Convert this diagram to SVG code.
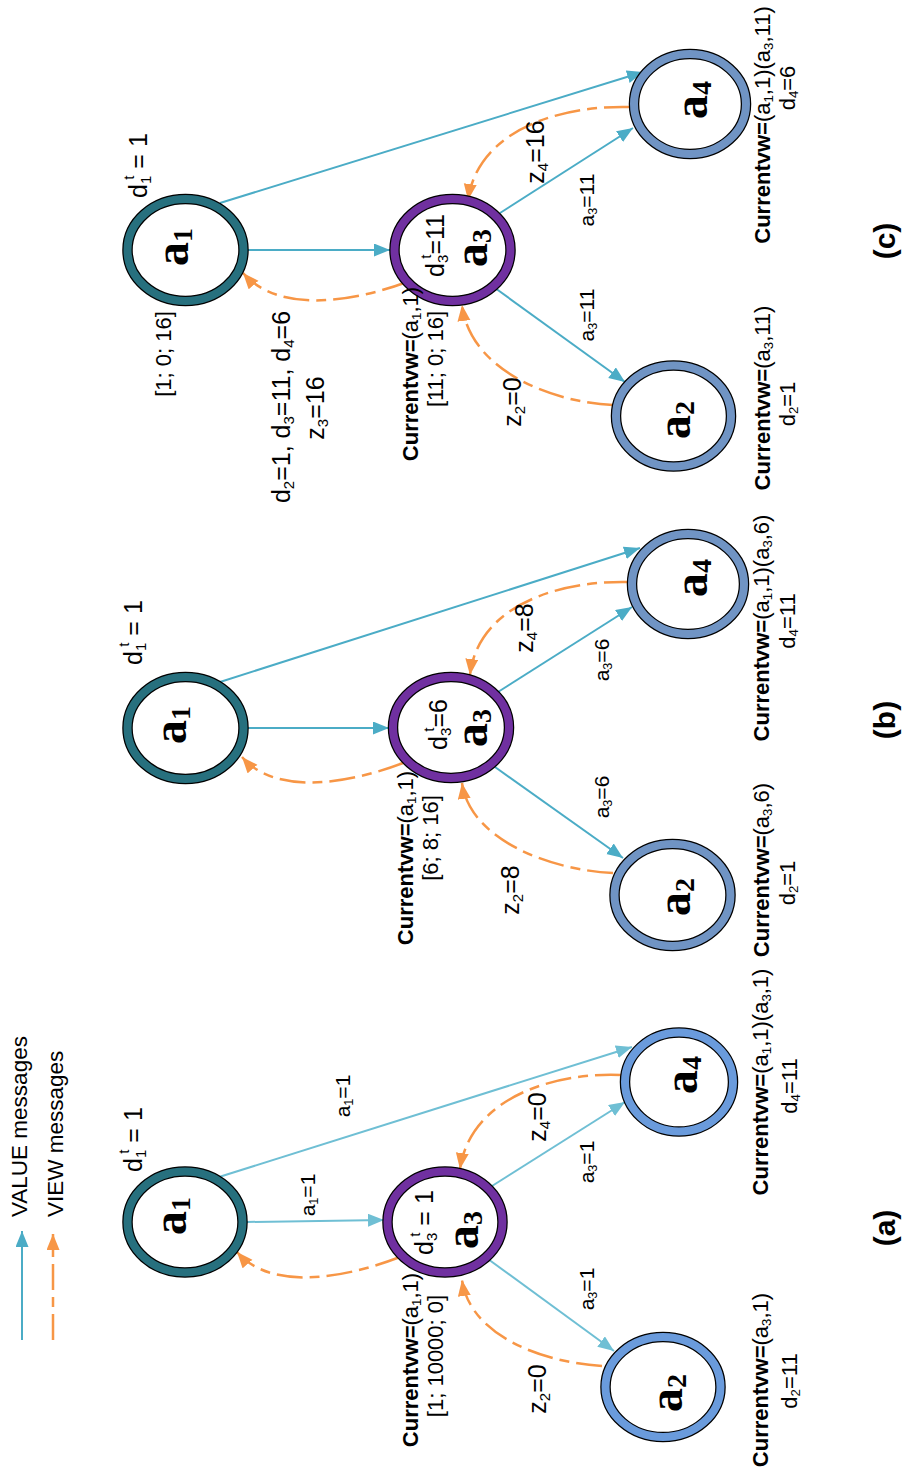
<svg xmlns="http://www.w3.org/2000/svg" width="906" height="1472" viewBox="0 0 906 1472">
  <defs>
    <style>
      .t { font-family: "Liberation Sans", Arial, sans-serif; fill: #000; }
      .lg { font-size: 22.5px; }
      .cv { font-size: 22px; }
      .el { font-size: 21px; }
      .zl { font-size: 25px; }
      .dl { font-size: 25px; }
      .sb { font-size: 0.6em; }
      .b { font-weight: bold; }
      .cap { font-size: 30px; font-weight: bold; }
      .name { font-family: "Liberation Serif", "Times New Roman", serif; font-weight: bold; font-size: 48px; fill: #000; }
      .name .sb { font-size: 28px; }
      .ring-k { fill: #fff; stroke: #000; stroke-width: 10.5; }
      .ring { fill: none; stroke-width: 8; }
      .teal { stroke: #27707e; }
      .purple { stroke: #7030a0; }
      .sky { stroke: #6a9bdc; }
      .steel { stroke: #7094c4; }
      .val { fill: none; stroke: #4bacc6; stroke-width: 2; }
      .val-lt { fill: none; stroke: #6fbfd4; stroke-width: 2; }
      .view { fill: none; stroke: #f79646; stroke-width: 2.5; stroke-dasharray: 26 7 10 7; }
    </style>
    <marker id="ah-val" markerUnits="userSpaceOnUse" markerWidth="18" markerHeight="14" refX="16" refY="6.5" orient="auto">
      <path d="M0,0 L16,6.5 L0,13 z" fill="#4bacc6"/>
    </marker>
    <marker id="ah-val-lt" markerUnits="userSpaceOnUse" markerWidth="18" markerHeight="14" refX="16" refY="6.5" orient="auto">
      <path d="M0,0 L16,6.5 L0,13 z" fill="#6fbfd4"/>
    </marker>
    <marker id="ah-view" markerUnits="userSpaceOnUse" markerWidth="18" markerHeight="14" refX="16" refY="6.5" orient="auto">
      <path d="M0,0 L16,6.5 L0,13 z" fill="#f79646"/>
    </marker>
  </defs>

  <rect width="906" height="1472" fill="#fff"/>

  <!-- legend -->
  <g id="legend">
    <line class="val" x1="22" y1="1340" x2="22" y2="1231" marker-end="url(#ah-val)"/>
    <line class="view" x1="53" y1="1340" x2="53" y2="1234" marker-end="url(#ah-view)"/>
    <text class="t lg" transform="translate(27,1217) rotate(-90)">VALUE messages</text>
    <text class="t lg" transform="translate(63,1217) rotate(-90)">VIEW messages</text>
  </g>

  <!-- message connectors -->
  <g id="connectors">
    <!-- (a) -->
    <line class="val-lt" x1="247" y1="1222" x2="384" y2="1220" marker-end="url(#ah-val-lt)"/>
    <line class="val-lt" x1="219" y1="1177" x2="632" y2="1047" marker-end="url(#ah-val-lt)"/>
    <line class="val-lt" x1="492" y1="1186" x2="625" y2="1102" marker-end="url(#ah-val-lt)"/>
    <line class="val-lt" x1="488" y1="1259" x2="614" y2="1351" marker-end="url(#ah-val-lt)"/>
    <path class="view" d="M400,1257 C340,1280 270,1290 237,1252" marker-end="url(#ah-view)"/>
    <path class="view" d="M621,1075 C550,1072 470,1100 460,1169" marker-end="url(#ah-view)"/>
    <path class="view" d="M602,1366 C540,1362 470,1335 462,1280" marker-end="url(#ah-view)"/>
    <!-- (b) -->
    <line class="val" x1="248" y1="728" x2="389" y2="728" marker-end="url(#ah-val)"/>
    <line class="val" x1="220" y1="682" x2="640" y2="548" marker-end="url(#ah-val)"/>
    <line class="val" x1="498" y1="692" x2="632" y2="607" marker-end="url(#ah-val)"/>
    <line class="val" x1="495" y1="767" x2="623" y2="858" marker-end="url(#ah-val)"/>
    <path class="view" d="M403,763 C345,785 275,795 242,757" marker-end="url(#ah-view)"/>
    <path class="view" d="M630,582 C560,580 478,605 470,675" marker-end="url(#ah-view)"/>
    <path class="view" d="M613,873 C550,870 470,840 462,783" marker-end="url(#ah-view)"/>
    <!-- (c) -->
    <line class="val" x1="248" y1="250" x2="390" y2="250" marker-end="url(#ah-val)"/>
    <line class="val" x1="220" y1="203" x2="643" y2="72" marker-end="url(#ah-val)"/>
    <line class="val" x1="500" y1="213" x2="633" y2="128" marker-end="url(#ah-val)"/>
    <line class="val" x1="495" y1="288" x2="625" y2="382" marker-end="url(#ah-val)"/>
    <path class="view" d="M407,282 C350,303 278,313 243,273" marker-end="url(#ah-view)"/>
    <path class="view" d="M630,107 C560,105 478,130 468,200" marker-end="url(#ah-view)"/>
    <path class="view" d="M613,405 C550,402 470,370 462,305" marker-end="url(#ah-view)"/>
  </g>

  <!-- (a) nodes -->
  <g id="a-a1">
    <ellipse class="ring-k" cx="185" cy="1222" rx="57.5" ry="50.5"/>
    <ellipse class="ring teal" cx="185" cy="1222" rx="57.5" ry="50.5"/>
    <text class="name" text-anchor="middle" transform="translate(186,1216) rotate(-90)">a<tspan class="sb" dy="4">1</tspan></text>
  </g>
  <g id="a-a3">
    <ellipse class="ring-k" cx="445" cy="1222" rx="57.5" ry="50.5"/>
    <ellipse class="ring purple" cx="445" cy="1222" rx="57.5" ry="50.5"/>
    <text class="name" text-anchor="middle" transform="translate(478,1230) rotate(-90)">a<tspan class="sb" dy="4">3</tspan></text>
  </g>
  <g id="a-a4">
    <ellipse class="ring-k" cx="679" cy="1082" rx="54" ry="49.5"/>
    <ellipse class="ring sky" cx="679" cy="1082" rx="54" ry="49.5"/>
    <text class="name" text-anchor="middle" transform="translate(697,1075) rotate(-90)">a<tspan class="sb" dy="4">4</tspan></text>
  </g>
  <g id="a-a2">
    <ellipse class="ring-k" cx="663" cy="1387" rx="57.5" ry="50"/>
    <ellipse class="ring sky" cx="663" cy="1387" rx="57.5" ry="50"/>
    <text class="name" text-anchor="middle" transform="translate(682,1393) rotate(-90)">a<tspan class="sb" dy="4">2</tspan></text>
  </g>

  <!-- (b) nodes -->
  <g id="b-a1">
    <ellipse class="ring-k" cx="185.5" cy="728" rx="58" ry="51"/>
    <ellipse class="ring teal" cx="185.5" cy="728" rx="58" ry="51"/>
    <text class="name" text-anchor="middle" transform="translate(186,725) rotate(-90)">a<tspan class="sb" dy="4">1</tspan></text>
  </g>
  <g id="b-a3">
    <ellipse class="ring-k" cx="451" cy="727.5" rx="58" ry="50.5"/>
    <ellipse class="ring purple" cx="451" cy="727.5" rx="58" ry="50.5"/>
    <text class="name" text-anchor="middle" transform="translate(487,728) rotate(-90)">a<tspan class="sb" dy="4">3</tspan></text>
  </g>
  <g id="b-a4">
    <ellipse class="ring-k" cx="688" cy="584" rx="56" ry="50"/>
    <ellipse class="ring steel" cx="688" cy="584" rx="56" ry="50"/>
    <text class="name" text-anchor="middle" transform="translate(707,578) rotate(-90)">a<tspan class="sb" dy="4">4</tspan></text>
  </g>
  <g id="b-a2">
    <ellipse class="ring-k" cx="672.5" cy="895" rx="58" ry="51"/>
    <ellipse class="ring steel" cx="672.5" cy="895" rx="58" ry="51"/>
    <text class="name" text-anchor="middle" transform="translate(690,897) rotate(-90)">a<tspan class="sb" dy="4">2</tspan></text>
  </g>

  <!-- (c) nodes -->
  <g id="c-a1">
    <ellipse class="ring-k" cx="185.5" cy="250" rx="58" ry="51"/>
    <ellipse class="ring teal" cx="185.5" cy="250" rx="58" ry="51"/>
    <text class="name" text-anchor="middle" transform="translate(188,247) rotate(-90)">a<tspan class="sb" dy="4">1</tspan></text>
  </g>
  <g id="c-a3">
    <ellipse class="ring-k" cx="452.5" cy="250" rx="58" ry="51"/>
    <ellipse class="ring purple" cx="452.5" cy="250" rx="58" ry="51"/>
    <text class="name" text-anchor="middle" transform="translate(487,248) rotate(-90)">a<tspan class="sb" dy="4">3</tspan></text>
  </g>
  <g id="c-a4">
    <ellipse class="ring-k" cx="690" cy="104" rx="56" ry="50"/>
    <ellipse class="ring steel" cx="690" cy="104" rx="56" ry="50"/>
    <text class="name" text-anchor="middle" transform="translate(707,100) rotate(-90)">a<tspan class="sb" dy="4">4</tspan></text>
  </g>
  <g id="c-a2">
    <ellipse class="ring-k" cx="673.5" cy="416" rx="57.5" ry="50.5"/>
    <ellipse class="ring steel" cx="673.5" cy="416" rx="57.5" ry="50.5"/>
    <text class="name" text-anchor="middle" transform="translate(690,420) rotate(-90)">a<tspan class="sb" dy="4">2</tspan></text>
  </g>

  <!-- annotations (a) -->
  <g id="labels-a" class="t">
    <text class="dl" transform="translate(142,1172) rotate(-90)">d<tspan class="sb" dy="4">1</tspan><tspan class="sb" dx="-4" dy="-17">t</tspan><tspan dy="13"> = 1</tspan></text>
    <text class="dl" transform="translate(433,1255) rotate(-90)">d<tspan class="sb" dy="4">3</tspan><tspan class="sb" dx="-4" dy="-17">t</tspan><tspan dy="13"> = 1</tspan></text>
    <text class="cv" text-anchor="middle" transform="translate(418,1360) rotate(-90)"><tspan class="b">Currentvw=</tspan>(a<tspan class="sb" dy="3">1</tspan><tspan dy="-3">,1)</tspan></text>
    <text class="cv" text-anchor="middle" transform="translate(443,1356) rotate(-90)">[1; 10000; 0]</text>
    <text class="el" text-anchor="middle" transform="translate(315,1195) rotate(-90)">a<tspan class="sb" dy="3">1</tspan><tspan dy="-3">=1</tspan></text>
    <text class="el" text-anchor="middle" transform="translate(350,1096) rotate(-90)">a<tspan class="sb" dy="3">1</tspan><tspan dy="-3">=1</tspan></text>
    <text class="zl" text-anchor="middle" transform="translate(546,1117) rotate(-90)">z<tspan class="sb" dy="4">4</tspan><tspan dy="-4">=0</tspan></text>
    <text class="el" text-anchor="middle" transform="translate(594,1162) rotate(-90)">a<tspan class="sb" dy="3">3</tspan><tspan dy="-3">=1</tspan></text>
    <text class="el" text-anchor="middle" transform="translate(594,1289) rotate(-90)">a<tspan class="sb" dy="3">3</tspan><tspan dy="-3">=1</tspan></text>
    <text class="zl" text-anchor="middle" transform="translate(546,1389) rotate(-90)">z<tspan class="sb" dy="4">2</tspan><tspan dy="-4">=0</tspan></text>
    <text class="cv" text-anchor="middle" transform="translate(768,1380) rotate(-90)"><tspan class="b">Currentvw=</tspan>(a<tspan class="sb" dy="3">3</tspan><tspan dy="-3">,1)</tspan></text>
    <text class="cv" text-anchor="middle" transform="translate(797,1381) rotate(-90)">d<tspan class="sb" dy="3">2</tspan><tspan dy="-3">=11</tspan></text>
    <text class="cv" text-anchor="middle" transform="translate(768,1082) rotate(-90)"><tspan class="b">Currentvw=</tspan>(a<tspan class="sb" dy="3">1</tspan><tspan dy="-3">,1)(a</tspan><tspan class="sb" dy="3">3</tspan><tspan dy="-3">,1)</tspan></text>
    <text class="cv" text-anchor="middle" transform="translate(797,1086) rotate(-90)">d<tspan class="sb" dy="3">4</tspan><tspan dy="-3">=11</tspan></text>
    <text class="t cap" text-anchor="middle" transform="translate(895,1228) rotate(-90)">(a)</text>
  </g>

  <!-- annotations (b) -->
  <g id="labels-b" class="t">
    <text class="dl" transform="translate(142,665) rotate(-90)">d<tspan class="sb" dy="4">1</tspan><tspan class="sb" dx="-4" dy="-17">t</tspan><tspan dy="13"> = 1</tspan></text>
    <text class="dl" transform="translate(447,750) rotate(-90)">d<tspan class="sb" dy="4">3</tspan><tspan class="sb" dx="-4" dy="-17">t</tspan><tspan dy="13">=6</tspan></text>
    <text class="cv" text-anchor="middle" transform="translate(413,858) rotate(-90)"><tspan class="b">Currentvw=</tspan>(a<tspan class="sb" dy="3">1</tspan><tspan dy="-3">,1)</tspan></text>
    <text class="cv" text-anchor="middle" transform="translate(438,838) rotate(-90)">[6; 8; 16]</text>
    <text class="zl" text-anchor="middle" transform="translate(533,628) rotate(-90)">z<tspan class="sb" dy="4">4</tspan><tspan dy="-4">=8</tspan></text>
    <text class="el" text-anchor="middle" transform="translate(609,660) rotate(-90)">a<tspan class="sb" dy="3">3</tspan><tspan dy="-3">=6</tspan></text>
    <text class="el" text-anchor="middle" transform="translate(609,797) rotate(-90)">a<tspan class="sb" dy="3">3</tspan><tspan dy="-3">=6</tspan></text>
    <text class="zl" text-anchor="middle" transform="translate(519,890) rotate(-90)">z<tspan class="sb" dy="4">2</tspan><tspan dy="-4">=8</tspan></text>
    <text class="cv" text-anchor="middle" transform="translate(769,870) rotate(-90)"><tspan class="b">Currentvw=</tspan>(a<tspan class="sb" dy="3">3</tspan><tspan dy="-3">,6)</tspan></text>
    <text class="cv" text-anchor="middle" transform="translate(795,883) rotate(-90)">d<tspan class="sb" dy="3">2</tspan><tspan dy="-3">=1</tspan></text>
    <text class="cv" text-anchor="middle" transform="translate(769,628) rotate(-90)"><tspan class="b">Currentvw=</tspan>(a<tspan class="sb" dy="3">1</tspan><tspan dy="-3">,1)(a</tspan><tspan class="sb" dy="3">3</tspan><tspan dy="-3">,6)</tspan></text>
    <text class="cv" text-anchor="middle" transform="translate(795,621) rotate(-90)">d<tspan class="sb" dy="3">4</tspan><tspan dy="-3">=11</tspan></text>
    <text class="t cap" text-anchor="middle" transform="translate(895,720) rotate(-90)">(b)</text>
  </g>

  <!-- annotations (c) -->
  <g id="labels-c" class="t">
    <text class="dl" transform="translate(147,198) rotate(-90)">d<tspan class="sb" dy="4">1</tspan><tspan class="sb" dx="-4" dy="-17">t</tspan><tspan dy="13"> = 1</tspan></text>
    <text class="cv" text-anchor="middle" transform="translate(171,354) rotate(-90)">[1; 0; 16]</text>
    <text class="zl" text-anchor="middle" transform="translate(290,407) rotate(-90)">d<tspan class="sb" dy="4">2</tspan><tspan dy="-4">=1, d</tspan><tspan class="sb" dy="4">3</tspan><tspan dy="-4">=11, d</tspan><tspan class="sb" dy="4">4</tspan><tspan dy="-4">=6</tspan></text>
    <text class="zl" text-anchor="middle" transform="translate(324,408) rotate(-90)">z<tspan class="sb" dy="4">3</tspan><tspan dy="-4">=16</tspan></text>
    <text class="dl" transform="translate(444,277) rotate(-90)">d<tspan class="sb" dy="4">3</tspan><tspan class="sb" dx="-4" dy="-17">t</tspan><tspan dy="13">=11</tspan></text>
    <text class="cv" text-anchor="middle" transform="translate(418,374) rotate(-90)"><tspan class="b">Currentvw=</tspan>(a<tspan class="sb" dy="3">1</tspan><tspan dy="-3">,1)</tspan></text>
    <text class="cv" text-anchor="middle" transform="translate(443,359) rotate(-90)">[11; 0; 16]</text>
    <text class="zl" text-anchor="middle" transform="translate(544,152) rotate(-90)">z<tspan class="sb" dy="4">4</tspan><tspan dy="-4">=16</tspan></text>
    <text class="el" text-anchor="middle" transform="translate(594,200) rotate(-90)">a<tspan class="sb" dy="3">3</tspan><tspan dy="-3">=11</tspan></text>
    <text class="el" text-anchor="middle" transform="translate(594,315) rotate(-90)">a<tspan class="sb" dy="3">3</tspan><tspan dy="-3">=11</tspan></text>
    <text class="zl" text-anchor="middle" transform="translate(521,402) rotate(-90)">z<tspan class="sb" dy="4">2</tspan><tspan dy="-4">=0</tspan></text>
    <text class="cv" text-anchor="middle" transform="translate(770,398) rotate(-90)"><tspan class="b">Currentvw=</tspan>(a<tspan class="sb" dy="3">3</tspan><tspan dy="-3">,11)</tspan></text>
    <text class="cv" text-anchor="middle" transform="translate(795,404) rotate(-90)">d<tspan class="sb" dy="3">2</tspan><tspan dy="-3">=1</tspan></text>
    <text class="cv" text-anchor="middle" transform="translate(770,125) rotate(-90)"><tspan class="b">Currentvw=</tspan>(a<tspan class="sb" dy="3">1</tspan><tspan dy="-3">,1)(a</tspan><tspan class="sb" dy="3">3</tspan><tspan dy="-3">,11)</tspan></text>
    <text class="cv" text-anchor="middle" transform="translate(795,88) rotate(-90)">d<tspan class="sb" dy="3">4</tspan><tspan dy="-3">=6</tspan></text>
    <text class="t cap" text-anchor="middle" transform="translate(895,241) rotate(-90)">(c)</text>
  </g>
</svg>
